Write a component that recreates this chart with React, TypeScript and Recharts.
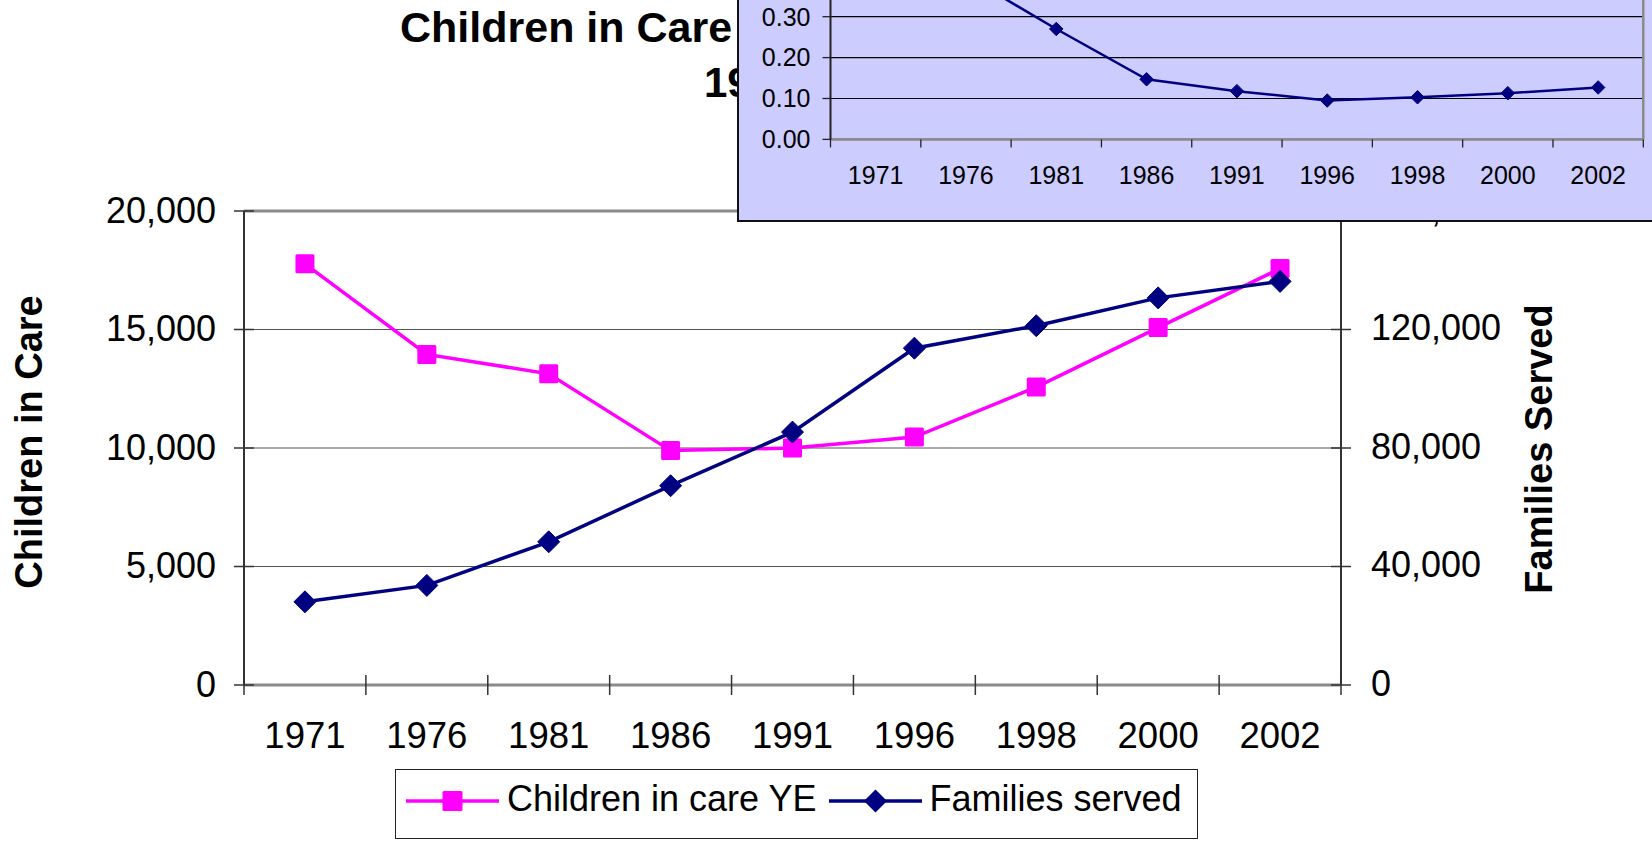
import React from 'react';
import { LineChart, Line, XAxis, YAxis, CartesianGrid, Legend, ReferenceLine } from 'recharts';

// ---- data ----
const years = ['1971', '1976', '1981', '1986', '1991', '1996', '1998', '2000', '2002'];
const childrenInCare = [17770, 13950, 13130, 9890, 10000, 10460, 12570, 15080, 17570];
const familiesServed = [28080, 33620, 48340, 67270, 85370, 113690, 121280, 130670, 136240];
const childrenPerFamily = [0.63, 0.4, 0.27, 0.147, 0.118, 0.095, 0.103, 0.113, 0.127];
const leftTicks = [0, 5000, 10000, 15000, 20000];
const rightTicks = [0, 40000, 80000, 120000, 160000];
const insetTicks = [0, 0.1, 0.2, 0.3, 0.4, 0.5, 0.6, 0.7];
const seriesNames = { children: 'Children in care YE', families: 'Families served' };

const mainData = years.map((year, i) => ({ year, children: childrenInCare[i], families: familiesServed[i] }));
const insetData = years.map((year, i) => ({ year, ratio: childrenPerFamily[i] }));

const FONT = '"Liberation Sans", Arial, Helvetica, sans-serif';
const PINK = '#FF00FF';
const NAVY = '#000080';

function makeCategoryTick(cfg: { fontSize: number; gap: number; up: number; down: number; stroke: string; strokeWidth: number }) {
  return (props: any) => {
    const { x, y, payload, index, visibleTicksCount } = props;
    const half = typeof payload?.offset === 'number' ? payload.offset : 0;
    const axisY = y - cfg.gap;
    const marks = [x - half];
    if (index === visibleTicksCount - 1) marks.push(x + half);
    return (
      <g>
        {marks.map((mx: number, i: number) => (
          <line key={i} x1={mx} x2={mx} y1={axisY - cfg.up} y2={axisY + cfg.down} stroke={cfg.stroke} strokeWidth={cfg.strokeWidth} />
        ))}
        <text x={x} y={y} dy="0.71em" textAnchor="middle" fontSize={cfg.fontSize} fontFamily={FONT} fill="#000">
          {payload.value}
        </text>
      </g>
    );
  };
}

const mainTick = makeCategoryTick({ fontSize: 36.5, gap: 37, up: 10, down: 10, stroke: '#333', strokeWidth: 1.5 });
const insetTick = makeCategoryTick({ fontSize: 25, gap: 27, up: 0, down: 8, stroke: '#222', strokeWidth: 1.3 });

const squareDot = (props: any) => {
  const { cx, cy, index } = props;
  if (cx == null || cy == null) return <g key={`sq-${index}`} />;
  return <rect key={`sq-${index}`} x={cx - 9.5} y={cy - 9.5} width={19} height={19} rx={1.5} fill={PINK} />;
};

function makeDiamond(w: number, h: number, prefix: string) {
  return (props: any) => {
    const { cx, cy, index } = props;
    if (cx == null || cy == null) return <g key={`${prefix}-${index}`} />;
    const pts = `${cx},${cy - h / 2} ${cx + w / 2},${cy} ${cx},${cy + h / 2} ${cx - w / 2},${cy}`;
    return <polygon key={`${prefix}-${index}`} points={pts} fill={NAVY} stroke={NAVY} strokeWidth={1} strokeLinejoin="round" />;
  };
}
const mainDiamond = makeDiamond(22, 22, 'dm');
const insetDiamond = makeDiamond(13.5, 13.5, 'di');

const leftTitle = (props: any) => {
  const vb = props.viewBox || {};
  const x = vb.x + 42;
  const y = 442;
  return (
    <text x={x} y={y} transform={`rotate(-90, ${x}, ${y})`} textAnchor="middle" fontSize={38} fontWeight="bold" fontFamily={FONT} fill="#000">
      Children in Care
    </text>
  );
};

const rightTitle = (props: any) => {
  const vb = props.viewBox || {};
  const x = vb.x + 211;
  const y = 449;
  return (
    <text x={x} y={y} transform={`rotate(-90, ${x}, ${y})`} textAnchor="middle" fontSize={38} fontWeight="bold" fontFamily={FONT} fill="#000">
      Families Served
    </text>
  );
};

const renderLegend = (props: any) => {
  const items: any[] = props.payload ?? [];
  return (
    <div
      style={{
        boxSizing: 'border-box',
        width: 803,
        height: 70,
        border: '1.5px solid #222',
        background: '#fff',
        display: 'flex',
        alignItems: 'flex-start',
        paddingLeft: 10,
        paddingTop: 9,
        fontFamily: FONT,
        fontSize: 36,
        color: '#000',
        whiteSpace: 'nowrap',
      }}
    >
      {items.map((entry: any, i: number) => {
        const isPink = entry.dataKey === 'children';
        const color = isPink ? PINK : NAVY;
        return (
          <div key={i} style={{ display: 'flex', alignItems: 'flex-start', marginRight: 12 }}>
            <svg width={93} height={44} style={{ display: 'block' }}>
              <line x1={0} x2={93} y1={22} y2={22} stroke={color} strokeWidth={3.5} />
              {isPink ? (
                <rect x={46.5 - 10} y={12} width={20} height={20} rx={1.5} fill={PINK} />
              ) : (
                <polygon points={`46.5,10.5 58,22 46.5,33.5 35,22`} fill={NAVY} />
              )}
            </svg>
            <span style={{ lineHeight: '40px', marginLeft: 8 }}>{entry.value}</span>
          </div>
        );
      })}
    </div>
  );
};

export default function App() {
  return (
    <div style={{ position: 'absolute', left: 0, top: 0, width: 1652, height: 849, overflow: 'hidden', background: '#fff', fontFamily: FONT }}>
      <div style={{ position: 'absolute', left: 0, top: 0 }}>
        <LineChart width={1652} height={849} data={mainData} margin={{ top: 211, right: 0, bottom: 104, left: 0 }}>
          <CartesianGrid yAxisId="left" vertical={false} stroke="#555" strokeWidth={1.2} />
          <XAxis
            dataKey="year"
            scale="band"
            interval={0}
            height={60}
            tickLine={false}
            tickSize={20}
            tickMargin={17}
            axisLine={{ stroke: '#8a8a8a', strokeWidth: 3 }}
            tick={mainTick}
          />
          <YAxis
            yAxisId="left"
            orientation="left"
            width={244}
            domain={[0, 20000]}
            ticks={leftTicks}
            interval={0}
            tickFormatter={(v: number) => v.toLocaleString('en-US')}
            tick={{ fontSize: 36, fill: '#000', fontFamily: FONT, dy: -1 }}
            tickSize={20}
            tickMargin={8}
            tickLine={{ stroke: '#333', strokeWidth: 1.5, transform: 'translate(10,0)' }}
            axisLine={{ stroke: '#333', strokeWidth: 2 }}
            label={leftTitle}
          />
          <YAxis
            yAxisId="right"
            orientation="right"
            width={311}
            domain={[0, 160000]}
            ticks={rightTicks}
            interval={0}
            tickFormatter={(v: number) => v.toLocaleString('en-US')}
            tick={{ fontSize: 36, fill: '#000', fontFamily: FONT, dy: -2 }}
            tickSize={20}
            tickMargin={10}
            tickLine={{ stroke: '#333', strokeWidth: 1.5, transform: 'translate(-10,0)' }}
            axisLine={{ stroke: '#333', strokeWidth: 2 }}
            label={rightTitle}
          />
          <ReferenceLine yAxisId="left" y={20000} stroke="#8a8a8a" strokeWidth={3} />
          <Line
            yAxisId="left"
            dataKey="children"
            name={seriesNames.children}
            stroke={PINK}
            strokeWidth={3.5}
            dot={squareDot}
            activeDot={false}
            isAnimationActive={false}
          />
          <Line
            yAxisId="right"
            dataKey="families"
            name={seriesNames.families}
            stroke={NAVY}
            strokeWidth={3.5}
            dot={mainDiamond}
            activeDot={false}
            isAnimationActive={false}
          />
          <Legend
            layout="horizontal"
            verticalAlign="middle"
            align="center"
            wrapperStyle={{ left: 395, top: 769, width: 803, height: 70 }}
            content={renderLegend}
          />
        </LineChart>
      </div>

      <svg width={1652} height={849} style={{ position: 'absolute', left: 0, top: 0, pointerEvents: 'none' }}>
        <text x={400} y={42} fontSize={43} fontWeight="bold" fontFamily={FONT} fill="#000">
          Children in Care and Families Served
        </text>
        <text x={704} y={97} fontSize={42} fontWeight="bold" fontFamily={FONT} fill="#000">
          1971 - 2002
        </text>
      </svg>

      <div
        style={{
          position: 'absolute',
          left: 737,
          top: -200,
          width: 925,
          height: 422,
          boxSizing: 'border-box',
          border: '2px solid #111',
          background: '#CCCCFF',
        }}
      >
        <div style={{ position: 'absolute', left: -2, top: -2 }}>
          <LineChart width={920} height={422} data={insetData} margin={{ top: 53.1, right: 13.7, bottom: 42.6, left: 0 }}>
            <CartesianGrid vertical={false} stroke="#000" strokeWidth={1.2} />
            <CartesianGrid
              horizontal={false}
              stroke="#8a8a8a"
              strokeWidth={2.5}
              verticalCoordinatesGenerator={({ offset }: any) => [offset.left + offset.width]}
            />
            <XAxis
              dataKey="year"
              scale="band"
              interval={0}
              height={40}
              tickLine={false}
              tickSize={8}
              tickMargin={19}
              axisLine={{ stroke: '#8a8a8a', strokeWidth: 2.5 }}
              tick={insetTick}
            />
            <YAxis
              width={93.5}
              domain={[0, 0.7]}
              ticks={insetTicks}
              interval={0}
              tickFormatter={(v: number) => v.toFixed(2)}
              tick={{ fontSize: 25, fill: '#000', fontFamily: FONT }}
              tickSize={8}
              tickMargin={12}
              tickLine={{ stroke: '#222', strokeWidth: 1.3 }}
              axisLine={{ stroke: '#222', strokeWidth: 2 }}
            />
            <Line
              dataKey="ratio"
              name="Children per family"
              stroke={NAVY}
              strokeWidth={2.5}
              dot={insetDiamond}
              activeDot={false}
              isAnimationActive={false}
            />
          </LineChart>
        </div>
      </div>
    </div>
  );
}
